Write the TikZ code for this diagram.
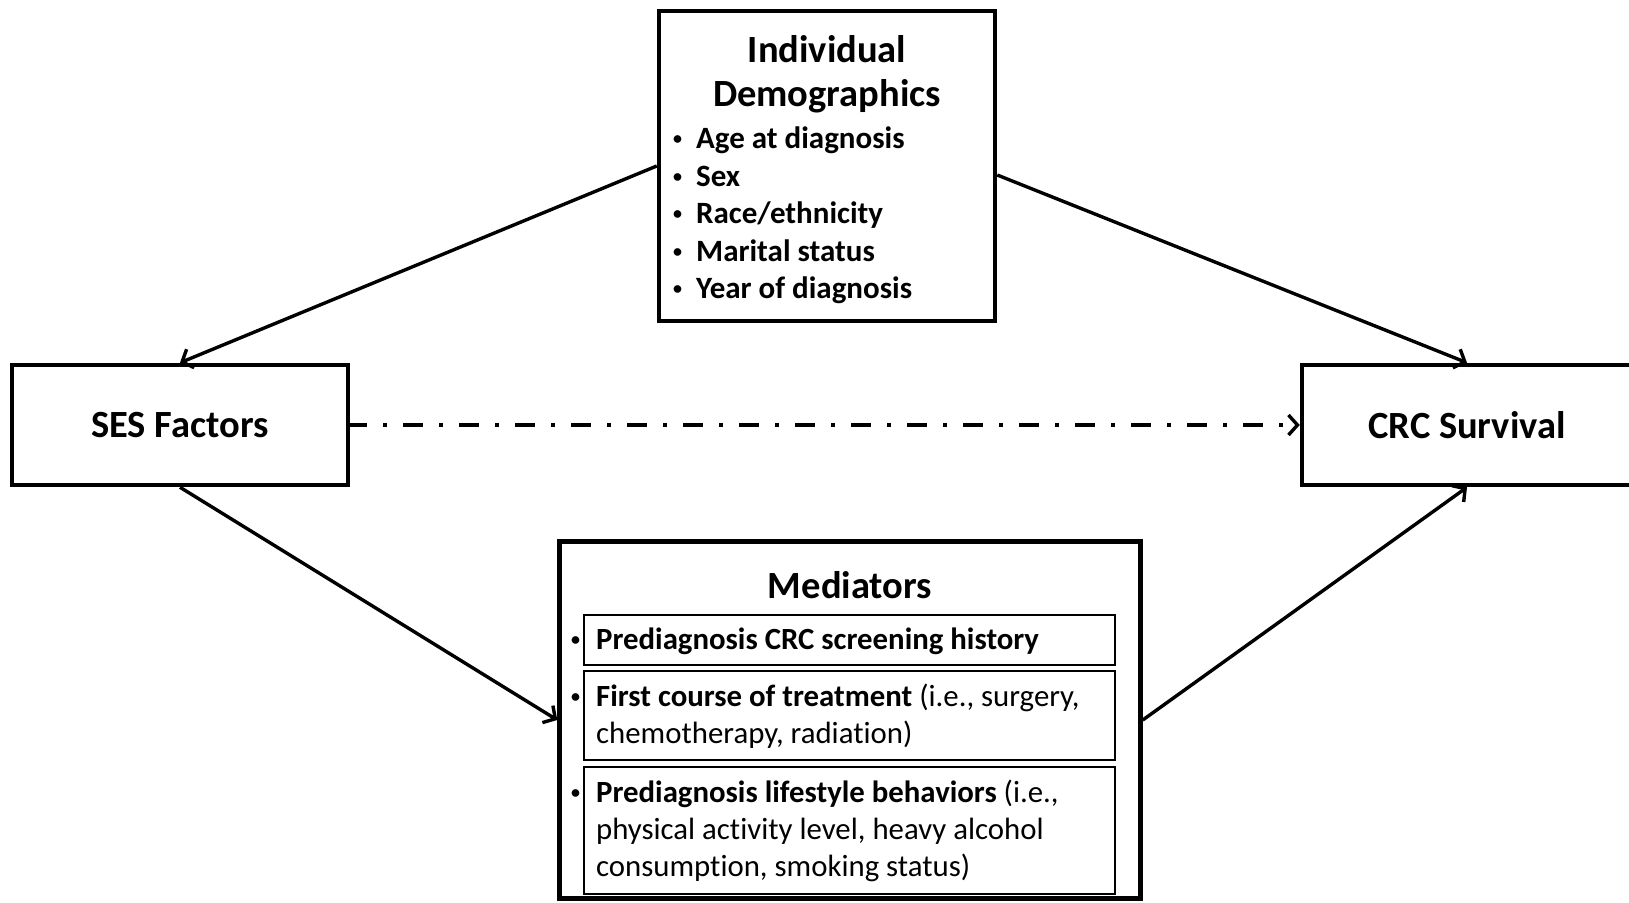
\documentclass[tikz,border=0pt]{standalone}
\usepackage{fontspec}
\setmainfont{Carlito}[Ligatures=NoCommon]
\usetikzlibrary{arrows.meta}
\newcommand{\smallbul}{\raisebox{4pt}{\fontsize{18}{18}\selectfont\bfseries •}}
\begin{document}
\begin{tikzpicture}[x=1pt,y=-1pt,
  bigbox/.style={draw, line width=4.5pt, inner sep=0pt},
  subbox/.style={draw, line width=1.8pt, inner sep=0pt, minimum width=531pt},
  titletext/.style={font=\fontsize{38.5}{44}\selectfont\bfseries, align=center, inner sep=0pt},
  itemtext/.style={font=\fontsize{31}{37.5}\selectfont\bfseries, inner sep=0pt, anchor=west},
  medtext/.style={font=\fontsize{30.8}{37}\selectfont, inner sep=0pt, anchor=west},
  conn/.style={line width=3.4pt, -{Straight Barb[length=9pt,width=20pt]}},
  dashconn/.style={line width=4pt, dash pattern=on 20pt off 16pt on 4pt off 16pt, dash phase=3pt,
    -{Straight Barb[length=9pt,width=20pt,line width=3.4pt]}}]
\useasboundingbox (0,0) rectangle (1629,902);

% main boxes
\node[bigbox, minimum width=336pt, minimum height=310pt] (demo) at (827,166) {};
\node[bigbox, minimum width=336pt, minimum height=120pt] (ses) at (180,425) {};
\node[bigbox, minimum width=334pt, minimum height=120pt] (crc) at (1469,425) {};
\node[bigbox, minimum width=581pt, minimum height=357pt] (med) at (850,720) {};

% box texts
\node[titletext] (demotitle) at (827,74) {Individual\\Demographics};
\node[itemtext] (demoitems) at (673,216) {%
  \begin{tabular}{@{}l@{\hspace{14pt}}l@{}}
  \smallbul & Age at diagnosis\\
  \smallbul & Sex\\
  \smallbul & Race/ethnicity\\
  \smallbul & Marital status\\
  \smallbul & Year of diagnosis
  \end{tabular}};
\node[titletext] (sestext) at (180,425) {SES Factors};
\node[titletext] (crctext) at (1467,425) {CRC Survival};
\node[titletext] (medtitle) at (850,585) {Mediators};

% mediator sub boxes
\node[subbox, minimum height=50pt] (m1) at (849.5,640) {};
\node[subbox, minimum height=89pt] (m2) at (849.5,715.5) {};
\node[subbox, minimum height=127pt] (m3) at (849.5,830.5) {};

\node[medtext] (m1text) at (571,642) {%
  \begin{tabular}{@{}l@{\hspace{16pt}}l@{}}
  \smallbul & \textbf{Prediagnosis CRC screening history}
  \end{tabular}};
\node[medtext] (m2text) at (571,718) {%
  \begin{tabular}{@{}l@{\hspace{16pt}}l@{}}
  \smallbul & \textbf{First course of treatment} (i.e., surgery,\\
    & chemotherapy, radiation)
  \end{tabular}};
\node[medtext] (m3text) at (571,832) {%
  \begin{tabular}{@{}l@{\hspace{16pt}}l@{}}
  \smallbul & \textbf{Prediagnosis lifestyle behaviors} (i.e.,\\
    & physical activity level, heavy alcohol\\
    & consumption, smoking status)
  \end{tabular}};

% connectors
\draw[conn] (demo.west) -- (ses.north);
\draw[conn] ([yshift=-9pt]demo.east) -- ([xshift=-2pt]crc.north);
\draw[conn] (ses.south) -- (med.west);
\draw[conn] (med.east) -- ([xshift=-2pt]crc.south);
\draw[dashconn] (ses.east) -- (crc.west);
\end{tikzpicture}
\end{document}
